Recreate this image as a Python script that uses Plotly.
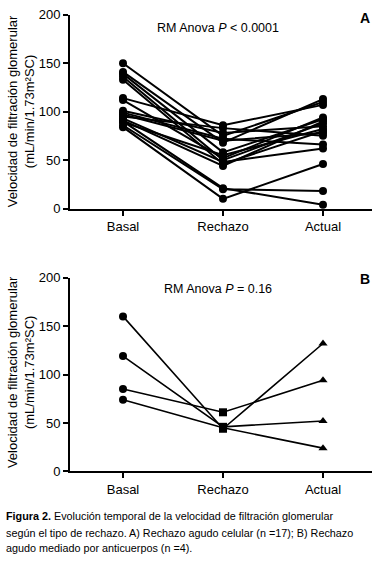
import plotly.graph_objects as go

categories = ["Basal", "Rechazo", "Actual"]
y_ticks = [0, 50, 100, 150, 200]

# Panel A: acute cellular rejection (n=17)
a_basal   = [150, 141, 139, 136, 133, 114, 112, 101, 99, 97, 95, 93, 91, 89, 90, 86, 84]
a_rechazo = [75, 68, 58, 50, 46, 86, 52, 78, 72, 70, 83, 48, 44, 55, 21, 20, 10]
a_actual  = [110, 113, 92, 88, 80, 107, 94, 85, 66, 78, 75, 62, 90, 82, 4, 18, 46]

# Panel B: antibody-mediated rejection (n=4)
b_basal   = [160, 119, 85, 74]
b_rechazo = [44, 46, 61, 45]
b_actual  = [132, 52, 94, 24]

W, H = 374, 567
FONT = "Liberation Sans Narrow, Arial Narrow, Liberation Sans, Arial"

def px_x(x):
    return x / W

def px_y(y):
    return 1 - y / H

fig = go.Figure()

for i in range(len(a_basal)):
    fig.add_trace(go.Scatter(
        x=[0, 1, 2], y=[a_basal[i], a_rechazo[i], a_actual[i]],
        mode="lines+markers", line=dict(color="black", width=2),
        marker=dict(symbol="circle", size=8, color="black"),
        xaxis="x", yaxis="y", showlegend=False, cliponaxis=False, hoverinfo="skip"))

for i in range(len(b_basal)):
    fig.add_trace(go.Scatter(
        x=[0, 1, 2], y=[b_basal[i], b_rechazo[i], b_actual[i]],
        mode="lines+markers", line=dict(color="black", width=1.6),
        marker=dict(symbol=["circle", "square", "triangle-up"], size=8, color="black"),
        xaxis="x2", yaxis="y2", showlegend=False, cliponaxis=False, hoverinfo="skip"))

xdom = [px_x(70), px_x(372)]
common_x = dict(range=[-0.53, 2.49], tickmode="array", tickvals=[0, 1, 2], ticktext=categories,
                showline=True, linecolor="black", linewidth=2, ticks="outside", ticklen=5,
                tickwidth=1.5, tickcolor="black", showgrid=False, zeroline=False,
                tickfont=dict(family=FONT, size=13, color="black"), domain=xdom, fixedrange=True)
common_y = dict(range=[0, 200], tickmode="array", tickvals=y_ticks,
                showline=True, linecolor="black", linewidth=2, ticks="outside", ticklen=5,
                tickwidth=1.5, tickcolor="black", showgrid=False, zeroline=False,
                tickfont=dict(family=FONT, size=13, color="black"), fixedrange=True)

fig.update_layout(
    width=W, height=H, margin=dict(l=0, r=0, t=0, b=0),
    paper_bgcolor="white", plot_bgcolor="white",
    xaxis=dict(common_x, anchor="y"),
    yaxis=dict(common_y, domain=[px_y(207), px_y(8)], anchor="x"),
    xaxis2=dict(common_x, anchor="y2"),
    yaxis2=dict(common_y, domain=[px_y(477), px_y(278)], anchor="x2"),
)

ytitle = "Velocidad de filtración glomerular<br>(mL/min/1.73m²SC)"
anns = [
    dict(text=ytitle, x=px_x(21), y=px_y(107), textangle=-90),
    dict(text=ytitle, x=px_x(21), y=px_y(375), textangle=-90),
    dict(text="RM Anova <i>P</i> < 0.0001", x=px_x(218), y=px_y(22), font=dict(family=FONT, size=12.5, color="black")),
    dict(text="RM Anova <i>P</i> = 0.16", x=px_x(218), y=px_y(290), font=dict(family=FONT, size=12.5, color="black")),
    dict(text="<b>A</b>", x=px_x(365), y=px_y(11), font=dict(family="Liberation Sans, Arial", size=14, color="black")),
    dict(text="<b>B</b>", x=px_x(365), y=px_y(279), font=dict(family="Liberation Sans, Arial", size=14, color="black")),
]
for a in anns:
    base = dict(xref="paper", yref="paper", showarrow=False, xanchor="center", yanchor="middle",
                font=dict(family=FONT, size=13, color="black"))
    base.update(a)
    fig.add_annotation(**base)

caption_lines = [
    "<b>Figura 2.</b> Evolución temporal de la velocidad de filtración glomerular",
    "según el tipo de rechazo. A) Rechazo agudo celular (n =17); B) Rechazo",
    "agudo mediado por anticuerpos (n =4).",
]
for line, yy in zip(caption_lines, [523, 540, 556]):
    fig.add_annotation(text=line, xref="paper", yref="paper", x=px_x(4), y=px_y(yy),
                       xanchor="left", yanchor="middle", showarrow=False,
                       font=dict(family=FONT, size=10.8, color="black"))

fig.write_html("out.html", config={"displayModeBar": False},
               post_script="document.body.style.margin='0';document.body.style.overflow='hidden';")
